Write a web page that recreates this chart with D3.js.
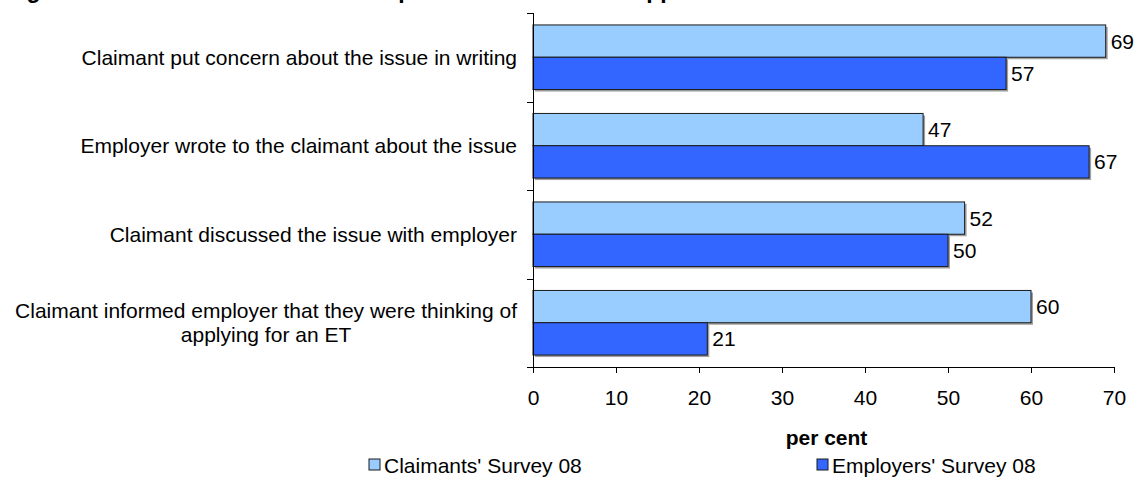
<!DOCTYPE html>
<html>
<head>
<meta charset="utf-8">
<script src="https://cdn.jsdelivr.net/npm/d3@7"></script>
<style>
  body { margin: 0; background: #fff; }
  svg text { font-family: Arial, "Liberation Sans", sans-serif; fill: #000; }
</style>
</head>
<body>
<script>
var categories = [
  "Claimant put concern about the issue in writing",
  "Employer wrote to the claimant about the issue",
  "Claimant discussed the issue with employer",
  "Claimant informed employer that they were thinking of|applying for an ET"
];
var seriesNames = ["Claimants' Survey 08", "Employers' Survey 08"];
var claimants = [69, 47, 52, 60];
var employers = [57, 67, 50, 21];
var xTicks = [0, 10, 20, 30, 40, 50, 60, 70];
var colors = ["#99ccff", "#3366ff"];

var width = 1137, height = 481,
    margin = {top: 13, right: 23, bottom: 114, left: 533};

var svg = d3.select("body").append("svg")
  .attr("width", width)
  .attr("height", height);

// title (cut off at the top edge in the source)
svg.append("text")
  .attr("x", 6)
  .attr("y", -2)
  .style("font-size", "23px")
  .style("font-weight", "bold")
  .text("Figure 3.4 Contact between the two parties before the ET application");

var x = d3.scaleLinear().domain([0, 70]).range([margin.left, width - margin.right]);
var y = d3.scaleBand().domain(d3.range(categories.length))
  .range([margin.top, height - margin.bottom]);
var inner = d3.scaleBand().domain([0, 1]).range([0, y.bandwidth()]).paddingOuter(0.37);

var data = categories.map(function(c, i) {
  return {cat: c, i: i, vals: [claimants[i], employers[i]]};
});

var groups = svg.selectAll(".grp").data(data).enter().append("g")
  .attr("class", "grp")
  .attr("transform", function(d) { return "translate(0," + y(d.i) + ")"; });

var bars = groups.selectAll(".bar").data(function(d) {
  return d.vals.map(function(v, s) { return {v: v, s: s}; });
}).enter();

// shadow
bars.append("rect")
  .attr("x", x(0) + 2)
  .attr("y", function(d) { return inner(d.s) + 2; })
  .attr("width", function(d) { return x(d.v) - x(0); })
  .attr("height", inner.bandwidth())
  .attr("fill", "#a0a0a0");

bars.append("rect")
  .attr("x", x(0))
  .attr("y", function(d) { return inner(d.s); })
  .attr("width", function(d) { return x(d.v) - x(0); })
  .attr("height", inner.bandwidth())
  .attr("fill", function(d) { return colors[d.s]; })
  .attr("stroke", "#1a1a1a")
  .attr("stroke-width", 1);

bars.append("text")
  .attr("x", function(d) { return x(d.v) + 5; })
  .attr("y", function(d) { return inner(d.s) + inner.bandwidth() / 2; })
  .attr("dy", "0.36em")
  .style("font-size", "21px")
  .text(function(d) { return d.v; });

// category labels
groups.each(function(d) {
  var lines = d.cat.split("|");
  var t = d3.select(this).append("text")
    .style("font-size", "21px")
    .attr("text-anchor", "middle");
  var lh = 24;
  lines.forEach(function(l, k) {
    t.append("tspan")
      .attr("y", y.bandwidth() / 2 + (k - (lines.length - 1) / 2) * lh)
      .attr("dy", "0.36em")
      .text(l);
  });
  var w = d3.max(t.selectAll("tspan").nodes(), function(n) { return n.getComputedTextLength(); });
  t.selectAll("tspan").attr("x", margin.left - 16 - w / 2);
});

// x axis
var xAxis = d3.axisBottom(x).tickValues(xTicks).tickSize(6).tickPadding(17);
var gX = svg.append("g")
  .attr("transform", "translate(0," + (height - margin.bottom) + ")")
  .call(xAxis);
gX.select(".domain").attr("stroke", "#000").attr("d", "M" + x(0) + ",0.5H" + (x(70) + 0.5));
gX.selectAll("text").style("font-size", "21px").attr("fill", "#000");

// y axis: ticks at band boundaries
var bounds = d3.range(categories.length + 1).map(function(i) {
  return i < categories.length ? y(i) : y(categories.length - 1) + y.bandwidth();
});
var gY = svg.append("g");
gY.append("line")
  .attr("x1", x(0) + 0.5).attr("x2", x(0) + 0.5)
  .attr("y1", margin.top).attr("y2", height - margin.bottom)
  .attr("stroke", "#000");
gY.selectAll(".tk").data(bounds).enter().append("line")
  .attr("x1", x(0) - 6).attr("x2", x(0) + 0.5)
  .attr("y1", function(d) { return Math.round(d) + 0.5; })
  .attr("y2", function(d) { return Math.round(d) + 0.5; })
  .attr("stroke", "#000");

// axis label
svg.append("text")
  .attr("x", (x(0) + x(70)) / 2 + 3)
  .attr("y", 445)
  .attr("text-anchor", "middle")
  .style("font-size", "21px")
  .style("font-weight", "bold")
  .text("per cent");

// legend
var legX = [369, 817];
var leg = svg.selectAll(".leg").data(seriesNames).enter().append("g")
  .attr("transform", function(d, i) { return "translate(" + legX[i] + ",459)"; });
leg.append("rect")
  .attr("width", 11).attr("height", 11)
  .attr("fill", function(d, i) { return colors[i]; })
  .attr("stroke", "#1a1a1a");
leg.append("text")
  .attr("x", 15)
  .attr("y", 6)
  .attr("dy", "0.36em")
  .style("font-size", "21px")
  .text(function(d) { return d; });
</script>
</body>
</html>
